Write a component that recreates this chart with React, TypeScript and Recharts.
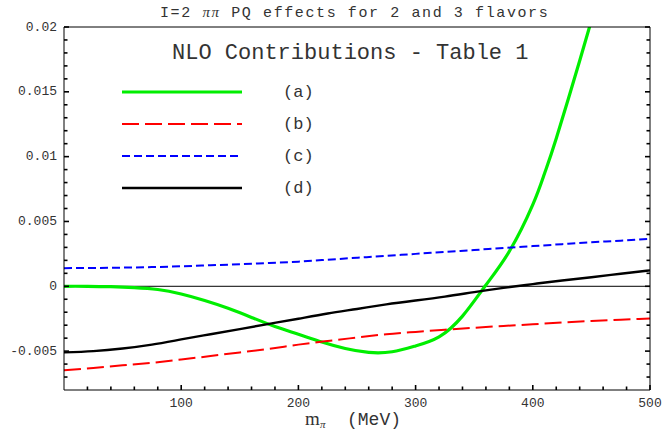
import { LineChart, Line, XAxis, YAxis, ReferenceLine, Legend } from "recharts";

// pion mass (MeV) sample points
const mPi = [0, 25, 50, 75, 100, 125, 150, 175, 200, 225, 250, 275, 300, 325, 350, 375, 400, 425, 450, 475, 500];
const curveB = [-0.00648, -0.0063, -0.0061, -0.0059, -0.00565, -0.00538, -0.0051, -0.00482, -0.0045, -0.00422, -0.00395, -0.0037, -0.00352, -0.00335, -0.0032, -0.00306, -0.00293, -0.00279, -0.00268, -0.00258, -0.00248];
const curveC = [0.0014, 0.00141, 0.00144, 0.00148, 0.00154, 0.00162, 0.0017, 0.0018, 0.0019, 0.00205, 0.0022, 0.00235, 0.0025, 0.00265, 0.0028, 0.00295, 0.0031, 0.00325, 0.0034, 0.00352, 0.00367];
const curveD = [-0.0051, -0.005, -0.0048, -0.0045, -0.0041, -0.0037, -0.0033, -0.0029, -0.0025, -0.0021, -0.00175, -0.0014, -0.0011, -0.0008, -0.00045, -0.00012, 0.00017, 0.00045, 0.0007, 0.00097, 0.00123];

// curve (a) needs a finer grid
const mPiA = [0, 20, 40, 60, 80, 100, 120, 140, 160, 180, 200, 220, 240, 260, 280, 300, 320, 340, 360, 380, 400, 410, 420, 440, 450];
const curveA = [0, 0, -0.00003, -0.0001, -0.00025, -0.0006, -0.0011, -0.0017, -0.0024, -0.0031, -0.0037, -0.0043, -0.0048, -0.0051, -0.00505, -0.0046, -0.0039, -0.0023, 0.0001, 0.0027, 0.0063, 0.0087, 0.0114, 0.0174, 0.0205];

const xMajorTicks = [100, 200, 300, 400, 500];
const yMajorTicks = [-0.005, 0, 0.005, 0.01, 0.015, 0.02];

const seriesMeta = [
    { id: "a", label: "(a)", color: "#00ee00", width: 3.2, dash: undefined as string | undefined },
    { id: "b", label: "(b)", color: "#ff0000", width: 2, dash: "17 6" },
    { id: "c", label: "(c)", color: "#0000ff", width: 2, dash: "8 4" },
    { id: "d", label: "(d)", color: "#000000", width: 2.4, dash: undefined as string | undefined },
];

const toPoints = (xs: number[], ys: number[]) => xs.map((m, i) => ({ m, v: ys[i] }));

const seriesData: Record<string, { m: number; v: number }[]> = {
    a: toPoints(mPiA, curveA),
    b: toPoints(mPi, curveB),
    c: toPoints(mPi, curveC),
    d: toPoints(mPi, curveD),
};

// minor ticks every 20 MeV / 0.001
const xTicks: number[] = [];
for (let k = 1; k <= 25; k++) xTicks.push(k * 20);
const yTicks: number[] = [...yMajorTicks];
for (let k = -7; k <= 19; k++) if (k % 5 !== 0) yTicks.push(k / 1000);

const FONT = "'Liberation Mono', 'DejaVu Sans Mono', monospace";
const SERIF = "'Liberation Serif', serif";
const TXT = "#333";
const TC = "#000";
const MAJ = 5;
const MIN = 3.5;

// frame ticks point inwards, Mathematica style
const tickLine = (x1: number, y1: number, x2: number, y2: number) => (
    <line x1={x1} y1={y1} x2={x2} y2={y2} stroke={TC} strokeWidth={1.6} />
);

const BottomTick = (props: any) => {
    const { x, y, payload } = props;
    const major = xMajorTicks.includes(payload.value);
    return (
        <g>
            {tickLine(x, y, x, y - (major ? MAJ : MIN))}
            {major && (
                <text x={x} y={y + 13} textAnchor="middle" dominantBaseline="central" fontFamily={FONT} fontSize={13} fill={TXT}>
                    {payload.value}
                </text>
            )}
        </g>
    );
};

const TopTick = (props: any) => {
    const { x, y, payload } = props;
    const major = xMajorTicks.includes(payload.value);
    return <g>{tickLine(x, y, x, y + (major ? MAJ : MIN))}</g>;
};

const LeftTick = (props: any) => {
    const { x, y, payload } = props;
    const major = yMajorTicks.includes(payload.value);
    return (
        <g>
            {tickLine(x, y, x + (major ? MAJ : MIN), y)}
            {major && (
                <text x={x - 7} y={y} textAnchor="end" dominantBaseline="central" fontFamily={FONT} fontSize={13} fill={TXT}>
                    {String(payload.value)}
                </text>
            )}
        </g>
    );
};

const RightTick = (props: any) => {
    const { x, y, payload } = props;
    const major = yMajorTicks.includes(payload.value);
    return <g>{tickLine(x, y, x - (major ? MAJ : MIN), y)}</g>;
};

const LegendBox = () => (
    <svg width={220} height={130}>
        {seriesMeta.map((s, i) => {
            const y = 14 + i * 32;
            return (
                <g key={s.id}>
                    <line x1={12} x2={132} y1={y} y2={y} stroke={s.color} strokeWidth={s.width} strokeDasharray={s.dash} />
                    <text x={173} y={y} dominantBaseline="central" fontFamily={FONT} fontSize={17} fill={TXT}>
                        {s.label}
                    </text>
                </g>
            );
        })}
    </svg>
);

export default function App() {
    return (
        <div style={{ position: "absolute", left: 0, top: 0, width: 662, height: 429, background: "#fff" }}>
            <LineChart width={662} height={429} margin={{ top: 26, right: 11, left: 6, bottom: 9 }}>
                <XAxis
                    dataKey="m" type="number" domain={[0, 500]} ticks={xTicks} interval={0}
                    height={30} tickSize={0} tickMargin={0} tickLine={false}
                    axisLine={{ stroke: "#000" }} tick={<BottomTick />}
                />
                <XAxis
                    xAxisId="top" orientation="top" dataKey="m" type="number" domain={[0, 500]} ticks={xTicks} interval={0}
                    height={1} tickSize={0} tickMargin={0} tickLine={false}
                    axisLine={{ stroke: "#000" }} tick={<TopTick />}
                />
                <YAxis
                    type="number" domain={[-0.008, 0.02]} allowDataOverflow ticks={yTicks} interval={0}
                    width={58} tickSize={0} tickMargin={0} tickLine={false}
                    axisLine={{ stroke: "#000" }} tick={<LeftTick />}
                />
                <YAxis
                    yAxisId="right" orientation="right" type="number" domain={[-0.008, 0.02]} allowDataOverflow ticks={yTicks} interval={0}
                    width={1} tickSize={0} tickMargin={0} tickLine={false}
                    axisLine={{ stroke: "#000" }} tick={<RightTick />}
                />
                <ReferenceLine y={0} stroke="#000" strokeWidth={1} />
                {seriesMeta.map((s) => (
                    <Line
                        key={s.id}
                        data={seriesData[s.id]}
                        dataKey="v"
                        name={s.label}
                        type="natural"
                        stroke={s.color}
                        strokeWidth={s.width}
                        strokeDasharray={s.dash}
                        dot={false}
                        isAnimationActive={false}
                    />
                ))}
                <Legend
                    layout="horizontal" verticalAlign="middle" align="center"
                    content={<LegendBox />}
                    wrapperStyle={{ left: 110, top: 78, width: 220, height: 130 }}
                />
            </LineChart>
            <svg width={662} height={429} style={{ position: "absolute", left: 0, top: 0, pointerEvents: "none" }}>
                <text x={160} y={17} fontFamily={FONT} fontSize={15} fill={TXT} style={{ letterSpacing: "1.6px" }}>
                    I=2 <tspan fontFamily={SERIF} fontStyle="italic">ππ</tspan> PQ effects for 2 and 3 flavors
                </text>
                <text x={172} y={59} fontFamily={FONT} fontSize={22} fill={TXT}>
                    NLO Contributions - Table 1
                </text>
                <text x={305} y={425} fontFamily={SERIF} fontSize={19} fill={TXT}>m</text>
                <text x={320} y={428} fontFamily={SERIF} fontSize={11} fontStyle="italic" fill={TXT}>π</text>
                <text x={347} y={425} fontFamily={FONT} fontSize={18} fill={TXT}>(MeV)</text>
            </svg>
        </div>
    );
}
